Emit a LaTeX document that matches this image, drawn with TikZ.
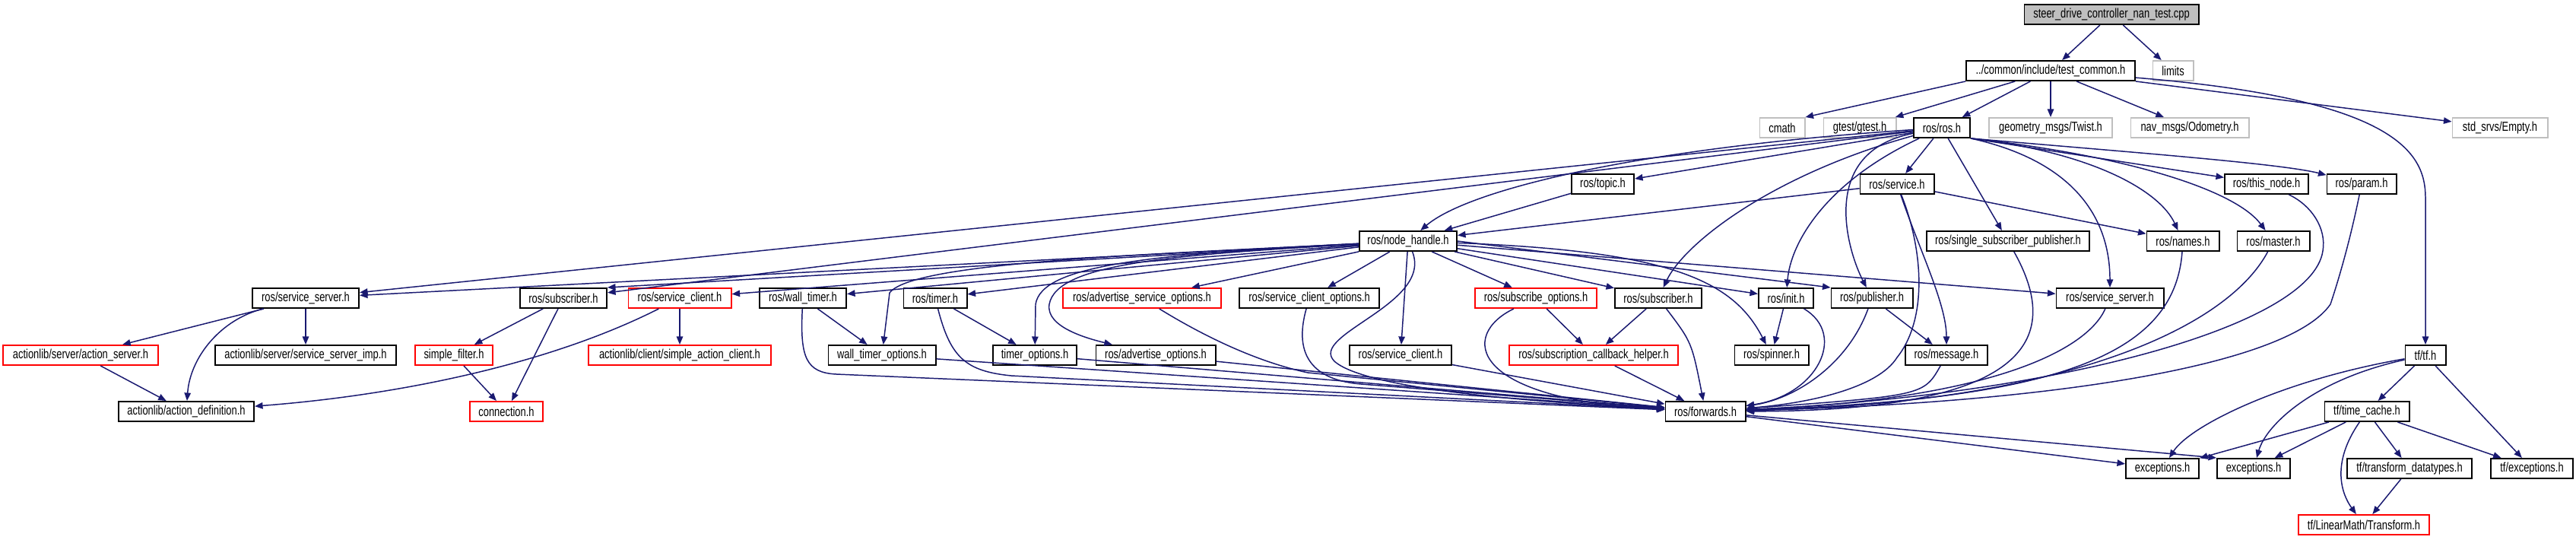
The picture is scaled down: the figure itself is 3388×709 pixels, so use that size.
\documentclass[tikz,border=0pt]{standalone}
\usepackage{fontspec}
\newfontfamily\dotfont[FakeStretch=0.75]{Liberation Sans}
\usetikzlibrary{arrows.meta}
\definecolor{edgeblue}{HTML}{191970}
\definecolor{ghost}{HTML}{BFBFBF}

\begin{document}
\begin{tikzpicture}[x=0.01cm, y=-0.01cm,
    hdr/.style={draw=black, line width=0.55pt, fill=white, minimum height=0.26cm, inner sep=0pt,
        font=\dotfont\fontsize{4.9pt}{5.5pt}\selectfont},
    redhdr/.style={hdr, draw=red},
    syshdr/.style={hdr, draw=ghost},
    srchdr/.style={hdr, fill=ghost},
    incl/.style={draw=edgeblue, line width=0.42pt, -{Triangle[length=3pt, width=2.4pt]}}]
    \useasboundingbox (0,0) rectangle (3388,709);

    % row 0 - 4
    \node[srchdr, minimum width=2.29cm] (root) at (2777,19) {steer\_drive\_controller\_nan\_test.cpp};
    \node[hdr, minimum width=2.22cm] (common) at (2697,93) {../common/include/test\_common.h};
    \node[syshdr, minimum width=0.53cm] (limits) at (2858,93) {limits};
    \node[syshdr, minimum width=0.59cm] (cmath) at (2344,168) {cmath};
    \node[syshdr, minimum width=0.95cm] (gtest) at (2446,168) {gtest/gtest.h};
    \node[hdr, minimum width=0.74cm] (ros) at (2554,168) {ros/ros.h};
    \node[syshdr, minimum width=1.62cm] (twist) at (2697,168) {geometry\_msgs/Twist.h};
    \node[syshdr, minimum width=1.55cm] (odom) at (2880,168) {nav\_msgs/Odometry.h};
    \node[syshdr, minimum width=1.25cm] (empty) at (3288,168) {std\_srvs/Empty.h};
    \node[hdr, minimum width=0.82cm] (topic) at (2108,242) {ros/topic.h};
    \node[hdr, minimum width=0.97cm] (service) at (2495,242) {ros/service.h};
    \node[hdr, minimum width=1.10cm] (thisnode) at (2981,242) {ros/this\_node.h};
    \node[hdr, minimum width=0.91cm] (param) at (3106,242) {ros/param.h};
    \node[hdr, minimum width=1.28cm] (nodehandle) at (1852,317) {ros/node\_handle.h};
    \node[hdr, minimum width=2.14cm] (ssp) at (2641,317) {ros/single\_subscriber\_publisher.h};
    \node[hdr, minimum width=0.95cm] (names) at (2871,317) {ros/names.h};
    \node[hdr, minimum width=0.95cm] (master) at (2990,317) {ros/master.h};

    % row 5
    \node[hdr, minimum width=1.40cm] (srvserverA) at (402,392) {ros/service\_server.h};
    \node[hdr, minimum width=1.14cm] (subA) at (741,392) {ros/subscriber.h};
    \node[redhdr, minimum width=1.35cm] (srvclientA) at (894,392) {ros/service\_client.h};
    \node[hdr, minimum width=1.14cm] (walltimer) at (1056,392) {ros/wall\_timer.h};
    \node[hdr, minimum width=0.83cm] (timer) at (1230,392) {ros/timer.h};
    \node[redhdr, minimum width=2.07cm] (advsrvopts) at (1502,392) {ros/advertise\_service\_options.h};
    \node[hdr, minimum width=1.84cm] (srvclientopts) at (1722,392) {ros/service\_client\_options.h};
    \node[redhdr, minimum width=1.60cm] (subopts) at (2020,392) {ros/subscribe\_options.h};
    \node[hdr, minimum width=1.14cm] (subB) at (2181,392) {ros/subscriber.h};
    \node[hdr, minimum width=0.72cm] (init) at (2349,392) {ros/init.h};
    \node[hdr, minimum width=1.07cm] (publisher) at (2462,392) {ros/publisher.h};
    \node[hdr, minimum width=1.41cm] (srvserverB) at (2775,392) {ros/service\_server.h};

    % row 6
    \node[redhdr, minimum width=2.03cm] (actionserver) at (106,467) {actionlib/server/action\_server.h};
    \node[hdr, minimum width=2.38cm] (srvserverimp) at (402,467) {actionlib/server/service\_server\_imp.h};
    \node[redhdr, minimum width=1.02cm] (simplefilter) at (597,467) {simple\_filter.h};
    \node[redhdr, minimum width=2.39cm] (simpleclient) at (894,467) {actionlib/client/simple\_action\_client.h};
    \node[hdr, minimum width=1.41cm] (walltimeropts) at (1160,467) {wall\_timer\_options.h};
    \node[hdr, minimum width=1.10cm] (timeropts) at (1361,467) {timer\_options.h};
    \node[hdr, minimum width=1.57cm] (advopts) at (1520,467) {ros/advertise\_options.h};
    \node[hdr, minimum width=1.34cm] (srvclientB) at (1842,467) {ros/service\_client.h};
    \node[redhdr, minimum width=2.22cm] (subhelper) at (2096,467) {ros/subscription\_callback\_helper.h};
    \node[hdr, minimum width=0.97cm] (spinner) at (2330,467) {ros/spinner.h};
    \node[hdr, minimum width=1.08cm] (message) at (2560,467) {ros/message.h};
    \node[hdr, minimum width=0.53cm] (tf) at (3190,467) {tf/tf.h};

    % row 7 - 9
    \node[hdr, minimum width=1.78cm] (actiondef) at (245,541) {actionlib/action\_definition.h};
    \node[redhdr, minimum width=0.96cm] (connection) at (666,541) {connection.h};
    \node[hdr, minimum width=1.05cm] (forwards) at (2243,541) {ros/forwards.h};
    \node[hdr, minimum width=1.11cm] (timecache) at (3113,541) {tf/time\_cache.h};
    \node[hdr, minimum width=0.96cm] (excA) at (2844,616) {exceptions.h};
    \node[hdr, minimum width=0.96cm] (excB) at (2964,616) {exceptions.h};
    \node[hdr, minimum width=1.64cm] (datatypes) at (3169,616) {tf/transform\_datatypes.h};
    \node[hdr, minimum width=1.08cm] (tfexc) at (3330,616) {tf/exceptions.h};
    \node[redhdr, minimum width=1.72cm] (transform) at (3109,690) {tf/LinearMath/Transform.h};

    % includes of the test file
    \draw[incl] (root) -- (common);
    \draw[incl] (root) -- (limits);
    \draw[incl] (common.south west) -- (cmath.north east);
    \draw[incl] (common) -- (gtest);
    \draw[incl] (common) -- (ros);
    \draw[incl] (common) -- (twist);
    \draw[incl] (common) -- (odom);
    \draw[incl] (common.south east) -- (empty);
    \draw[incl] (common) .. controls (3150,130) and (3190,200) .. (3190,260) -- (tf);

    % ros/ros.h
    \draw[incl] (ros) -- (srvserverA);
    \draw[incl] (ros) -- (subA);
    \draw[incl] (ros) .. controls (2150,195) and (1930,250) .. (nodehandle);
    \draw[incl] (ros) -- (topic);
    \draw[incl] (ros) -- (service);
    \draw[incl] (ros) .. controls (2330,230) and (2215,320) .. (subB);
    \draw[incl] (ros) .. controls (2400,240) and (2355,320) .. (init);
    \draw[incl] (ros) .. controls (2390,200) and (2430,330) .. (publisher);
    \draw[incl] (ros) -- (ssp);
    \draw[incl] (ros.south east) .. controls (2720,210) and (2775,280) .. (srvserverB);
    \draw[incl] (ros.south east) .. controls (2750,200) and (2840,250) .. (names);
    \draw[incl] (ros.south east) .. controls (2800,205) and (2940,250) .. (master);
    \draw[incl] (ros.south east) -- (thisnode);
    \draw[incl] (ros.south east) .. controls (2800,200) and (3000,215) .. (param);

    \draw[incl] (topic) -- (nodehandle);
    \draw[incl] (service) -- (nodehandle);
    \draw[incl] (service) -- (names);
    \draw[incl] (service) .. controls (2525,330) and (2560,400) .. (message);
    \draw[incl] (service) .. controls (2530,330) and (2535,420) .. (2495,470)
        .. controls (2470,510) and (2380,530) .. (forwards);

    % ros/node_handle.h
    \draw[incl] (nodehandle) -- (srvserverA);
    \draw[incl] (nodehandle) -- (subA.north east);
    \draw[incl] (nodehandle) -- (srvclientA);
    \draw[incl] (nodehandle) -- (walltimer);
    \draw[incl] (nodehandle) -- (timer);
    \draw[incl] (nodehandle) -- (advsrvopts);
    \draw[incl] (nodehandle) -- (srvclientopts);
    \draw[incl] (nodehandle) -- (subopts);
    \draw[incl] (nodehandle) -- (subB);
    \draw[incl] (nodehandle) -- (init);
    \draw[incl] (nodehandle.east) -- (publisher.north west);
    \draw[incl] (nodehandle) -- (srvserverB);
    \draw[incl] (nodehandle) -- (srvclientB);
    \draw[incl] (nodehandle) .. controls (1500,335) and (1200,345) .. (1170,385) -- (walltimeropts);
    \draw[incl] (nodehandle) .. controls (1500,335) and (1370,350) .. (1362,400) -- (timeropts);
    \draw[incl] (nodehandle) .. controls (1550,335) and (1390,345) .. (1380,400)
        .. controls (1375,430) and (1430,445) .. (advopts);
    \draw[incl] (nodehandle) .. controls (2200,330) and (2280,370) .. (spinner);
    \draw[incl] (nodehandle) .. controls (1885,400) and (1720,440) .. (1755,475)
        .. controls (1800,515) and (2050,530) .. (forwards);

    % left part
    \draw[incl] (srvserverA) -- (actionserver);
    \draw[incl] (srvserverA) -- (srvserverimp);
    \draw[incl] (srvserverA) .. controls (290,420) and (250,470) .. (actiondef);
    \draw[incl] (actionserver) -- (actiondef);
    \draw[incl] (subA) -- (simplefilter);
    \draw[incl] (subA) -- (connection);
    \draw[incl] (simplefilter) -- (connection);
    \draw[incl] (srvclientA) -- (simpleclient);
    \draw[incl] (srvclientA) .. controls (720,480) and (520,520) .. (actiondef);

    % down to ros/forwards.h
    \draw[incl] (walltimer) -- (walltimeropts);
    \draw[incl] (walltimer) .. controls (1052,470) and (1060,490) .. (1100,492) -- (forwards);
    \draw[incl] (timer) -- (timeropts);
    \draw[incl] (timer) .. controls (1250,470) and (1270,488) .. (1330,494) -- (forwards);
    \draw[incl] (walltimeropts) -- (forwards);
    \draw[incl] (timeropts) -- (forwards);
    \draw[incl] (advopts) -- (forwards);
    \draw[incl] (advsrvopts) .. controls (1580,440) and (1650,475) .. (1720,490) -- (forwards);
    \draw[incl] (srvclientopts) .. controls (1700,470) and (1730,500) .. (1790,505) -- (forwards);
    \draw[incl] (srvclientB) -- (forwards);
    \draw[incl] (subopts) -- (subhelper);
    \draw[incl] (subopts) .. controls (1920,440) and (1930,525) .. (forwards);
    \draw[incl] (subB) -- (subhelper);
    \draw[incl] (subB) .. controls (2225,450) .. (forwards);
    \draw[incl] (subhelper) -- (forwards);
    \draw[incl] (init) -- (spinner);
    \draw[incl] (init) .. controls (2430,440) and (2390,520) .. (forwards);
    \draw[incl] (publisher) -- (message);
    \draw[incl] (publisher) .. controls (2430,480) and (2360,525) .. (forwards);
    \draw[incl] (message) .. controls (2530,520) .. (forwards);
    \draw[incl] (ssp) .. controls (2710,440) and (2680,540) .. (forwards);
    \draw[incl] (srvserverB) .. controls (2745,460) and (2620,525) .. (forwards);
    \draw[incl] (names) .. controls (2860,470) and (2700,525) .. (forwards);
    \draw[incl] (master) .. controls (2930,430) and (2720,530) .. (forwards);
    \draw[incl] (thisnode) .. controls (3040,270) and (3060,300) .. (3055,330)
        .. controls (3040,430) and (2700,520) .. (forwards);
    \draw[incl] (param) .. controls (3090,320) and (3075,370) .. (3065,400)
        .. controls (3010,480) and (2700,530) .. (forwards);
    \draw[incl] (forwards) -- (excA);
    \draw[incl] (forwards) -- (excB.north west);

    % tf
    \draw[incl] (tf) .. controls (3000,500) and (2880,560) .. (excA);
    \draw[incl] (tf) .. controls (3040,500) and (2980,560) .. (excB);
    \draw[incl] (tf) -- (timecache);
    \draw[incl] (tf) -- (tfexc);
    \draw[incl] (timecache) -- (excA);
    \draw[incl] (timecache) -- (excB);
    \draw[incl] (timecache) -- (datatypes);
    \draw[incl] (timecache) -- (tfexc);
    \draw[incl] (timecache) .. controls (3065,610) and (3080,650) .. (transform);
    \draw[incl] (datatypes) -- (transform);
\end{tikzpicture}
\end{document}
